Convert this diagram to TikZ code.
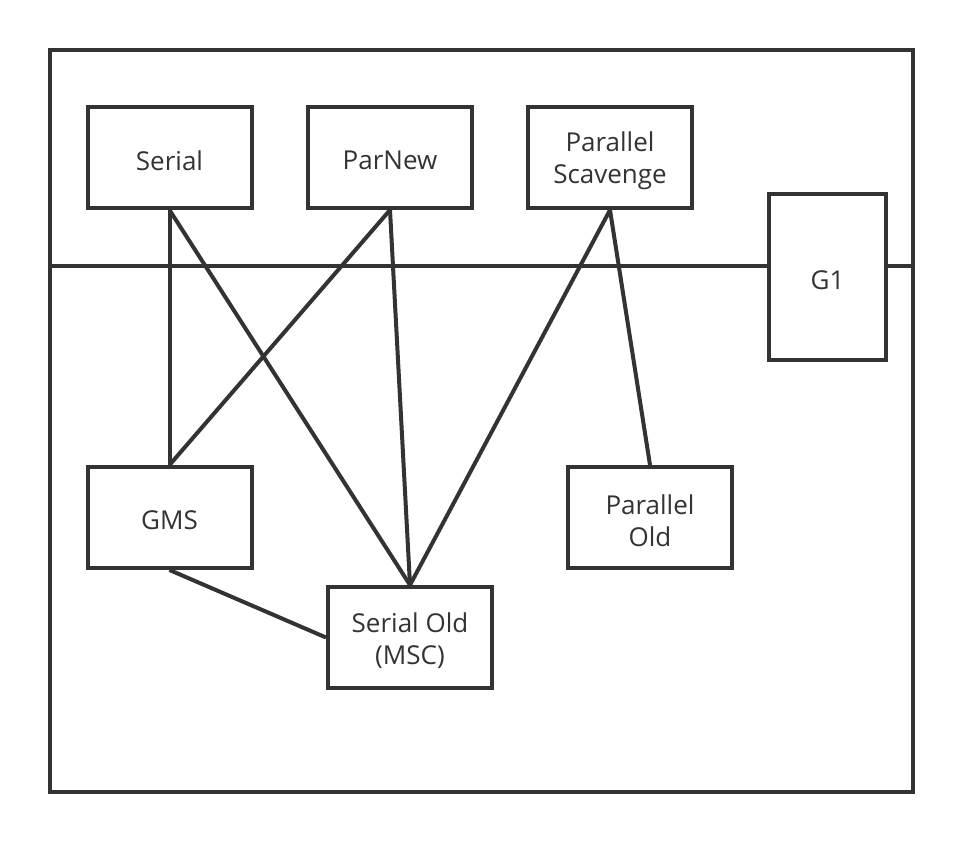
\documentclass[tikz,border=0pt]{standalone}
\usepackage{fontspec}
\setmainfont{Open Sans}
\definecolor{ink}{HTML}{333333}
\begin{document}
\begin{tikzpicture}[x=1pt,y=-1pt,
  box/.style={draw=ink,line width=4pt,inner sep=0pt,minimum width=164pt,minimum height=101pt},
  txt/.style={text=ink,align=center,inner sep=0pt,yshift=-3pt,font=\fontsize{26}{32}\selectfont},
  conn/.style={draw=ink,line width=4pt}]
\useasboundingbox (0,0) rectangle (964,842);
\node[draw=ink,line width=4pt,minimum width=863pt,minimum height=742pt,inner sep=0pt] (frame) at (481.5,421) {};
\node[box,label={[txt]center:Serial}] (serial) at (169.5,157.5) {};
\node[box,label={[txt]center:ParNew}] (parnew) at (390,157.5) {};
\node[box,label={[txt]center:Parallel\\Scavenge}] (ps) at (610,157.5) {};
\node[box,minimum width=117pt,minimum height=166pt,label={[txt]center:G1}] (g1) at (827.5,277) {};
\node[box,label={[txt]center:GMS}] (gms) at (169.5,517.5) {};
\node[box,label={[txt]center:Parallel\\Old}] (pold) at (650,517.5) {};
\node[box,label={[txt]center:Serial Old\\(MSC)}] (sold) at (410,637.5) {};
\coordinate (hl) at (frame.west |- 0,266);
\coordinate (hr) at (frame.east |- 0,266);
\draw[conn] (hl) -- (g1.west |- hl);
\draw[conn] (g1.east |- hl) -- (hr);
\draw[conn] (serial.south) -- (gms.north);
\draw[conn] (serial.south) -- (sold.north);
\draw[conn] (parnew.south) -- (gms.north);
\draw[conn] (parnew.south) -- (sold.north);
\draw[conn] (ps.south) -- (sold.north);
\draw[conn] (ps.south) -- (pold.north);
\draw[conn] (gms.south) -- (sold.west);
\end{tikzpicture}
\end{document}
